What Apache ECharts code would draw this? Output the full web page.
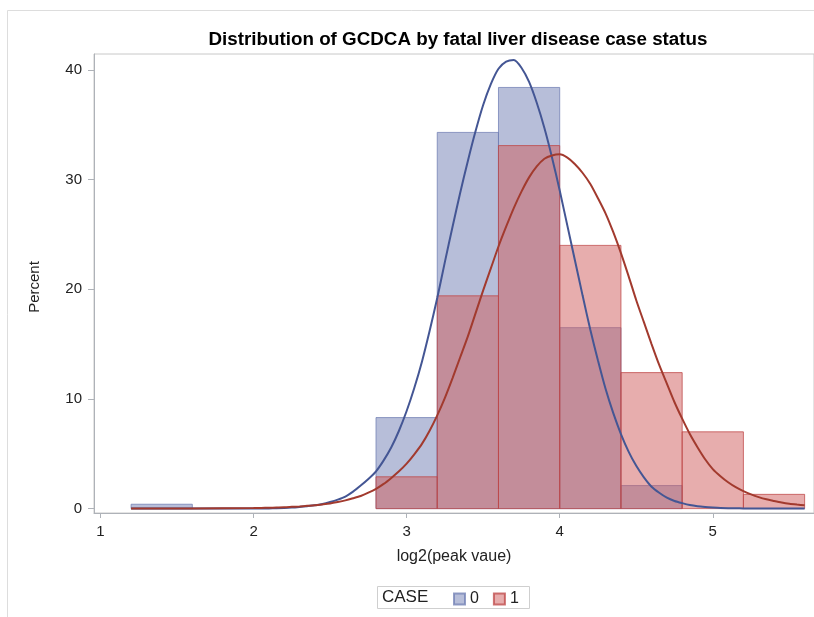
<!DOCTYPE html>
<html>
<head>
<meta charset="utf-8">
<script src="https://cdn.jsdelivr.net/npm/echarts@6/dist/echarts.min.js"></script>
<style>
  html, body { margin: 0; padding: 0; background: #ffffff; }
  #chart { width: 814px; height: 617px; }
</style>
</head>
<body>
<div id="chart"></div>
<script>
// Histogram bins (left edge of each bin, common width) and percent per CASE group
const binStart = [1.2, 2.8, 3.2, 3.6, 4.0, 4.4, 4.8, 5.2];
const binWidth = 0.4;
const case0Pct = [0.4, 8.3, 34.3, 38.4, 16.5, 2.1, 0, 0];
const case1Pct = [0, 2.9, 19.4, 33.1, 24.0, 12.4, 7.0, 1.3];

// Fitted density curves (percent scale) along log2(peak value)
const fitX = [1.2, 1.6, 2.0, 2.05, 2.1, 2.15, 2.2, 2.25, 2.3, 2.35, 2.4, 2.45, 2.5, 2.55, 2.6, 2.65, 2.7, 2.75, 2.8, 2.85, 2.9, 2.95, 3.0, 3.05, 3.1, 3.15, 3.2, 3.25, 3.3, 3.35, 3.4, 3.45, 3.5, 3.55, 3.6, 3.65, 3.7, 3.75, 3.8, 3.85, 3.9, 3.95, 4.0, 4.05, 4.1, 4.15, 4.2, 4.25, 4.3, 4.35, 4.4, 4.45, 4.5, 4.55, 4.6, 4.65, 4.7, 4.75, 4.8, 4.85, 4.9, 4.95, 5.0, 5.05, 5.1, 5.15, 5.2, 5.25, 5.3, 5.35, 5.4, 5.45, 5.5, 5.55, 5.6];
const fit0Y = [0, 0, 0, 0.01, 0.02, 0.03, 0.05, 0.09, 0.15, 0.22, 0.3, 0.42, 0.6, 0.82, 1.1, 1.55, 2.1, 2.7, 3.4, 4.4, 5.6, 7.1, 8.9, 11.0, 13.4, 16.2, 19.2, 22.5, 25.7, 28.8, 31.7, 34.4, 36.8, 38.7, 40.1, 40.75, 40.9, 40.2, 38.9, 37.0, 34.7, 32.0, 29.0, 25.8, 22.6, 19.4, 16.3, 13.5, 10.9, 8.7, 6.8, 5.2, 3.9, 2.85, 2.0, 1.45, 1.0, 0.7, 0.5, 0.33, 0.22, 0.15, 0.1, 0.06, 0.04, 0.03, 0.02, 0.01, 0.01, 0, 0, 0, 0, 0, 0];
const fit1Y = [0, 0.01, 0.05, 0.06, 0.08, 0.1, 0.12, 0.16, 0.2, 0.25, 0.3, 0.38, 0.47, 0.6, 0.75, 0.94, 1.15, 1.45, 1.8, 2.25, 2.8, 3.4, 4.1, 4.95, 5.9, 7.1, 8.5, 10.1, 11.9, 13.8, 15.7, 17.8, 19.9, 21.9, 23.9, 25.7, 27.4, 28.9, 30.2, 31.2, 31.9, 32.2, 32.3, 32.0, 31.4, 30.6, 29.6, 28.3, 26.9, 25.2, 23.3, 21.2, 19.0, 17.0, 15.0, 13.1, 11.4, 9.7, 8.2, 6.8, 5.6, 4.5, 3.6, 2.95, 2.4, 1.95, 1.6, 1.3, 1.05, 0.85, 0.7, 0.56, 0.45, 0.37, 0.3];

const xTicks = [1, 2, 3, 4, 5];
const yTicks = [0, 10, 20, 30, 40];
const groupNames = ['0', '1'];

const FONT = 'Liberation Sans, Arial, sans-serif';
const fill0 = 'rgba(111,126,179,0.5)';
const edge0 = 'rgba(111,126,179,0.75)';
const fill1 = 'rgba(208,91,91,0.5)';
const edge1 = 'rgba(190,70,70,0.75)';
const line0 = '#445694';
const line1 = '#A23A2E';

function binSeries(name, values, fill, edge) {
  return {
    name: name,
    type: 'custom',
    itemStyle: { color: fill, borderColor: edge, borderWidth: 1 },
    data: binStart.map((x, i) => [x, values[i]]).filter(d => d[1] > 0),
    renderItem: function (params, api) {
      const x0 = api.value(0);
      const v = api.value(1);
      const a = api.coord([x0, v]);
      const b = api.coord([x0 + binWidth, 0]);
      return {
        type: 'rect',
        shape: { x: a[0], y: a[1], width: b[0] - a[0], height: b[1] - a[1] },
        style: { fill: fill, stroke: edge, lineWidth: 1 }
      };
    }
  };
}

function fitSeries(name, ys, color) {
  return {
    name: name,
    type: 'line',
    data: fitX.map((x, i) => [x, ys[i]]),
    showSymbol: false,
    smooth: 0.25,
    lineStyle: { color: color, width: 2 },
    itemStyle: { color: color },
    z: 5,
    silent: true
  };
}

const chart = echarts.init(document.getElementById('chart'), null, { renderer: 'canvas' });

chart.setOption({
  backgroundColor: '#ffffff',
  animation: false,
  title: {
    text: 'Distribution of GCDCA by fatal liver disease case status',
    left: 453,
    top: 25,
    textAlign: 'center',
    textStyle: { fontFamily: FONT, fontSize: 18.8, fontWeight: 'bold', color: '#000000' }
  },
  grid: {
    left: 94, top: 54, width: 722, height: 459,
    show: true, borderColor: '#c8c8c8', borderWidth: 1, backgroundColor: 'transparent'
  },
  xAxis: {
    type: 'value',
    min: 0.9577,
    max: 5.6612,
    name: 'log2(peak vaue)',
    nameLocation: 'middle',
    nameGap: 36,
    nameTextStyle: { fontFamily: FONT, fontSize: 16, color: '#222222' },
    axisLine: { show: true, onZero: false, lineStyle: { color: '#aeb2b8', width: 1 } },
    axisTick: { show: true, length: 5, customValues: xTicks, lineStyle: { color: '#aeb2b8' } },
    axisLabel: { customValues: xTicks, margin: 11, fontFamily: FONT, fontSize: 15, color: '#222222' },
    splitLine: { show: false }
  },
  yAxis: {
    type: 'value',
    min: -0.4,
    max: 41.45,
    axisLine: { show: true, onZero: false, lineStyle: { color: '#aeb2b8', width: 1 } },
    axisTick: { show: true, length: 6, customValues: yTicks, lineStyle: { color: '#aeb2b8' } },
    axisLabel: { customValues: yTicks, margin: 12, fontFamily: FONT, fontSize: 15, color: '#222222' },
    splitLine: { show: false }
  },
  legend: {
    data: groupNames,
    left: 453,
    top: 591,
    padding: 0,
    itemWidth: 11,
    itemHeight: 11,
    itemGap: 14,
    icon: 'rect',
    selectedMode: false,
    textStyle: { fontFamily: FONT, fontSize: 16, color: '#222222' }
  },
  graphic: [
    {
      type: 'rect',
      shape: { x: 7.5, y: 10.5, width: 900, height: 700 },
      style: { fill: 'none', stroke: '#dddddd', lineWidth: 1 },
      silent: true
    },
    {
      type: 'text',
      x: 35,
      y: 287,
      rotation: Math.PI / 2,
      style: { text: 'Percent', fontFamily: FONT, fontSize: 15, fill: '#222222', align: 'center', verticalAlign: 'middle' },
      silent: true
    },
    {
      type: 'rect',
      shape: { x: 377.5, y: 586.5, width: 152, height: 22 },
      style: { fill: 'none', stroke: '#cfcfcf', lineWidth: 1 },
      silent: true
    },
    {
      type: 'text',
      left: 382,
      top: 589,
      style: { text: 'CASE', fontFamily: FONT, fontSize: 17, fill: '#222222' },
      silent: true
    }
  ],
  series: [
    binSeries(groupNames[0], case0Pct, fill0, edge0),
    binSeries(groupNames[1], case1Pct, fill1, edge1),
    fitSeries('fit0', fit0Y, line0),
    fitSeries('fit1', fit1Y, line1)
  ]
});
</script>
</body>
</html>
